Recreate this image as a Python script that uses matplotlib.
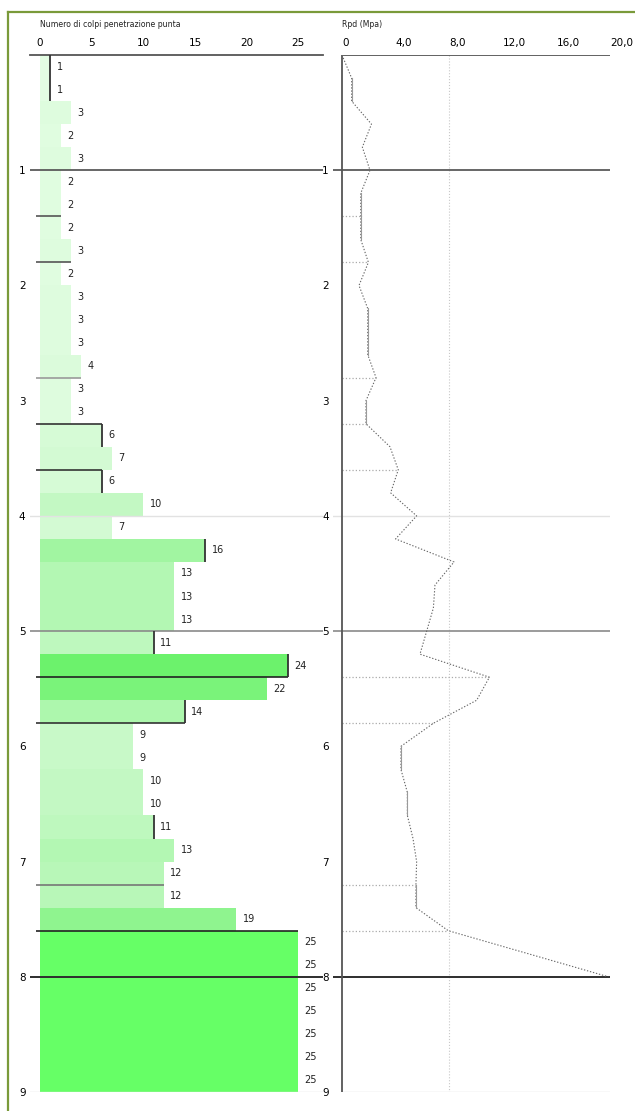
import matplotlib
matplotlib.use("Agg")
import matplotlib.pyplot as plt
import numpy as np
from matplotlib.colors import LinearSegmentedColormap
from matplotlib.lines import Line2D

# blow counts every 0.2 m, from 0.0 to 9.0 m
blows = [1, 1, 3, 2, 3, 2, 2, 2, 3, 2,
         3, 3, 3, 4, 3, 3, 6, 7, 6, 10,
         7, 16, 13, 13, 13, 11, 24, 22, 14, 9,
         9, 10, 10, 11, 13, 12, 12, 19, 25, 25,
         25, 25, 25, 25, 25]
step = 0.2

# dynamic point resistance (Mpa), read at 0.0, 0.2, ... 8.0 m
rpd = [0.0, 0.72, 0.72, 2.2, 1.52, 2.09, 1.4, 1.4, 1.4, 1.97,
       1.27, 1.92, 1.92, 1.92, 2.54, 1.79, 1.79, 3.58, 4.2, 3.63,
       5.57, 4.0, 8.36, 6.94, 6.82, 6.32, 5.82, 11.0, 10.05, 6.82,
       4.4, 4.4, 4.88, 4.88, 5.3, 5.57, 5.52, 5.52, 7.93, 13.9,
       19.87]

# layer boundaries: depth (m) and blow count reached by the line
strata_depth = [1.4, 1.8, 2.8, 3.2, 3.6, 5.4, 5.8, 7.2, 7.6]
strata_blows = [2, 3, 4, 6, 6, 24, 14, 12, 25]
strata_color = ['#555555', '#555555', '#9a9a9a', '#333333', '#333333',
                '#222222', '#333333', '#777777', '#222222']
# bars with a dark right edge
edged_rows = [0, 1, 16, 18, 21, 25, 26, 28, 33]

blow_ticks = [0, 5, 10, 15, 20, 25]
rpd_ticks = [0, 4, 8, 12, 16, 20]
rpd_ticklabels = ['0', '4,0', '8,0', '12,0', '16,0', '20,0']
depth_ticks = [1, 2, 3, 4, 5, 6, 7, 8, 9]

# reference lines across both columns: depth, colour, width
ref_depth = [1, 4, 5, 8, 9]
ref_color = ['#5a5a5a', '#e2e2e2', '#8a8a8a', '#2e2e2e', '#dddddd']
ref_lw = [1.3, 1.0, 1.2, 1.4, 1.0]

plt.rcParams['font.family'] = ['DejaVu Sans']

fig = plt.figure(figsize=(6.35, 11.11), dpi=100)
W, H = 635.0, 1111.0

# ---- left column: blows
ax = fig.add_axes([29.7 / W, 1 - 1092 / H, (323 - 29.7) / W, (1092 - 55) / H])
ax.set_xlim(-1.0, 27.4)
ax.set_ylim(9, 0)

cmap = LinearSegmentedColormap.from_list(
    'blows', [(0.0, '#e3fde3'), (0.25, '#d3fad3'), (0.5, '#b3f7b3'),
              (0.75, '#8ff48f'), (0.96, '#6cf26c'), (1.0, '#66ff66')])
n = len(blows)
centers = np.arange(n) * step + step / 2
colors = [cmap((b - 1) / 24.0) for b in blows]
ax.barh(centers, blows, height=step, left=0, color=colors, edgecolor='none', zorder=1)

for c, b in zip(centers, blows):
    ax.annotate(str(b), (b, c), xytext=(4.5, 0), textcoords='offset points',
                va='center', ha='left', fontsize=7, color='#222222')

for d, col, lw in zip(ref_depth, ref_color, ref_lw):
    ax.axhline(d, color=col, lw=lw, zorder=3)

for d, b, col in zip(strata_depth, strata_blows, strata_color):
    ax.hlines(d, -0.4, b, color=col, lw=1.2, zorder=4)

for r in edged_rows:
    ax.vlines(blows[r], r * step, (r + 1) * step, color='#333333', lw=1.3, zorder=4)

for s in ['left', 'right', 'bottom']:
    ax.spines[s].set_visible(False)
ax.spines['top'].set_color('#555555')
ax.spines['top'].set_linewidth(1.3)
ax.xaxis.tick_top()
ax.set_xticks(blow_ticks)
ax.set_xticklabels([str(t) for t in blow_ticks])
ax.tick_params(axis='x', length=0, pad=5, labelsize=7.5)
ax.set_yticks(depth_ticks)
ax.set_yticklabels([str(t) for t in depth_ticks])
ax.tick_params(axis='y', length=0, pad=3, labelsize=7.5)
ax.text(0, 1.029, 'Numero di colpi penetrazione punta', transform=ax.get_xaxis_transform(),
        fontsize=5.6, ha='left', va='center', color='#222222')

# ---- right column: Rpd
ax2 = fig.add_axes([333 / W, 1 - 1092 / H, (610 - 333) / W, (1092 - 55) / H])
ax2.set_xlim(-0.67, 20)
ax2.set_ylim(9, 0)
for s in ax2.spines.values():
    s.set_visible(False)

ax2.vlines(8, 0, 9, color='#c8c8c8', lw=0.8, linestyles=':', zorder=1)
for d, col, lw in zip(ref_depth[:-1], ref_color[:-1], ref_lw[:-1]):
    ax2.axhline(d, color=col, lw=lw, zorder=3)
ax2.hlines(9, 0, 20, color=ref_color[-1], lw=ref_lw[-1], zorder=3)
ax2.hlines(0, 0, 20, color='#555555', lw=1.3, zorder=4)
ax2.vlines(0, 0, 9, color='#555555', lw=1.3, zorder=4)

rpd_depth = np.arange(len(rpd)) * step
for d in strata_depth:
    v = np.interp(d, rpd_depth, rpd)
    ax2.hlines(d, 0, v, color='#aaaaaa', lw=0.9, linestyles=':', zorder=2)

ax2.plot(rpd, rpd_depth, color='#666666', lw=0.8, ls=(0, (1.2, 1.6)), zorder=5)
# constant stretches come out as plain strokes
for i in range(len(rpd) - 1):
    if rpd[i] == rpd[i + 1] and rpd[i] > 0:
        ax2.plot(rpd[i:i + 2], rpd_depth[i:i + 2], color='#9a9a9a', lw=0.8, zorder=5)

ax2.xaxis.tick_top()
ax2.set_xticks(rpd_ticks)
ax2.set_xticklabels(rpd_ticklabels)
for lab in ax2.get_xticklabels():
    lab.set_horizontalalignment('left')
ax2.tick_params(axis='x', length=0, pad=5, labelsize=7.5)
ax2.set_yticks(depth_ticks)
ax2.set_yticklabels([str(t) for t in depth_ticks])
ax2.tick_params(axis='y', length=0, pad=3, labelsize=7.5)
ax2.text(0, 1.029, 'Rpd (Mpa)', transform=ax2.get_xaxis_transform(),
         fontsize=5.6, ha='left', va='center', color='#222222')

# green frame on the top and left edge
frame = '#7a9a3a'
fig.add_artist(Line2D([8 / W, 1], [1 - 12 / H, 1 - 12 / H], color=frame, lw=1.6,
                      transform=fig.transFigure))
fig.add_artist(Line2D([8 / W, 8 / W], [0, 1 - 12 / H], color=frame, lw=1.6,
                      transform=fig.transFigure))

fig.savefig('out.png', dpi=100)
